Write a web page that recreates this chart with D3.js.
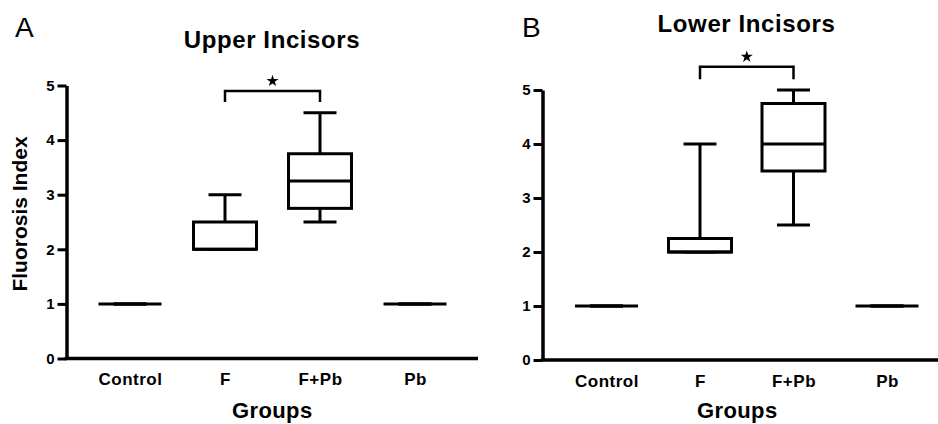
<!DOCTYPE html>
<html>
<head>
<meta charset="utf-8">
<script src="https://cdn.jsdelivr.net/npm/d3@7"></script>
<style>
  body { margin: 0; background: #fff; }
  svg { display: block; }
  text { font-family: "Liberation Sans", Arial, sans-serif; fill: #000; }
</style>
</head>
<body>
<div id="chart"></div>
<script>
// Groups and y ticks
const groups = ["Control", "F", "F+Pb", "Pb"];
const yTicks = [0, 1, 2, 3, 4, 5];

// Upper incisors: box plot statistics per group
const upperMin    = [1, 2,   2.5,  1];
const upperQ1     = [1, 2,   2.75, 1];
const upperMedian = [1, 2,   3.25, 1];
const upperQ3     = [1, 2.5, 3.75, 1];
const upperMax    = [1, 3,   4.5,  1];

// Lower incisors
const lowerMin    = [1, 2,    2.5,  1];
const lowerQ1     = [1, 2,    3.5,  1];
const lowerMedian = [1, 2,    4,    1];
const lowerQ3     = [1, 2.25, 4.75, 1];
const lowerMax    = [1, 4,    5,    1];

// significance bracket between these two groups
const sigPair = ["F", "F+Pb"];

const width = 938, height = 424;

const svg = d3.select("#chart")
    .append("svg")
    .attr("width", width)
    .attr("height", height);

const toStats = (mn, q1, med, q3, mx) =>
    groups.map((g, i) => ({group: g, min: mn[i], q1: q1[i], median: med[i], q3: q3[i], max: mx[i]}));

const panels = [
  {
    letter: "A", title: "Upper Incisors",
    stats: toStats(upperMin, upperQ1, upperMedian, upperQ3, upperMax),
    axisX: 66.5, xEnd: 478, y0: 358.5, y5: 85.5, c0: 130, c3: 415,
    titleX: 272, titleY: 48, letterX: 15, letterY: 37,
    bracketTop: 4.9, bracketLeg: 4.7, catY: 385, groupsY: 418, yLabel: true
  },
  {
    letter: "B", title: "Lower Incisors",
    stats: toStats(lowerMin, lowerQ1, lowerMedian, lowerQ3, lowerMax),
    axisX: 542.5, xEnd: 938, y0: 360, y5: 90, c0: 606.5, c3: 887,
    titleX: 746.5, titleY: 32, letterX: 522, letterY: 37,
    bracketTop: 5.43, bracketLeg: 5.2, catY: 386.5, groupsY: 418, yLabel: false
  }
];

const boxHalf = 31.5, capHalf = 16.5;

panels.forEach(p => {
  const g = svg.append("g");

  const x = d3.scalePoint().domain(groups).range([p.c0, p.c3]);
  const y = d3.scaleLinear().domain([0, 5]).range([p.y0, p.y5]);

  // panel letter and title
  g.append("text")
      .attr("x", p.letterX).attr("y", p.letterY)
      .style("font-size", "28px")
      .text(p.letter);
  g.append("text")
      .attr("x", p.titleX).attr("y", p.titleY)
      .attr("text-anchor", "middle")
      .style("font-size", "24px").style("font-weight", "bold")
      .style("letter-spacing", "0.6px")
      .text(p.title);

  // y axis
  const yAxis = g.append("g")
      .attr("transform", `translate(${p.axisX},0)`)
      .call(d3.axisLeft(y).tickValues(yTicks).tickFormat(d3.format("d"))
          .tickSize(9).tickSizeOuter(0).tickPadding(3));
  yAxis.select(".domain").attr("stroke", "#000").attr("stroke-width", 3.5);
  yAxis.selectAll(".tick line").attr("stroke", "#000").attr("stroke-width", 3);
  yAxis.selectAll(".tick text")
      .style("font-size", "15px").style("font-weight", "bold")
      .attr("fill", "#000").attr("font-family", null);

  // x axis baseline
  g.append("line")
      .attr("x1", p.axisX - 1.75).attr("x2", p.xEnd)
      .attr("y1", y(0)).attr("y2", y(0))
      .attr("stroke", "#000").attr("stroke-width", 3.5);

  // category labels
  const xAxis = g.append("g")
      .attr("transform", `translate(0,${p.catY})`)
      .call(d3.axisBottom(x).tickSize(0).tickPadding(0));
  xAxis.select(".domain").remove();
  xAxis.selectAll(".tick text")
      .attr("dy", 0)
      .style("font-size", "17px").style("font-weight", "bold")
      .style("letter-spacing", "0.5px")
      .attr("fill", "#000").attr("font-family", null);

  g.append("text")
      .attr("x", (p.axisX + p.xEnd) / 2 + (p.yLabel ? 0 : -3)).attr("y", p.groupsY)
      .attr("text-anchor", "middle")
      .style("font-size", "22px").style("font-weight", "bold")
      .style("letter-spacing", "0.4px")
      .text("Groups");

  if (p.yLabel) {
    g.append("text")
        .attr("transform", `translate(27,${(p.y0 + p.y5) / 2 - 8}) rotate(-90)`)
        .attr("text-anchor", "middle")
        .style("font-size", "21px").style("font-weight", "bold")
        .text("Fluorosis Index");
  }

  // box plots
  const box = g.append("g")
      .attr("fill", "none").attr("stroke", "#000").attr("stroke-width", 3)
      .selectAll("g")
      .data(p.stats)
      .join("g")
      .attr("transform", d => `translate(${x(d.group)},0)`);

  // whiskers
  box.append("line")
      .attr("y1", d => y(d.q3)).attr("y2", d => y(d.max));
  box.append("line")
      .attr("y1", d => y(d.q1)).attr("y2", d => y(d.min));
  box.append("line")
      .attr("x1", -capHalf).attr("x2", capHalf)
      .attr("y1", d => y(d.max)).attr("y2", d => y(d.max));
  box.append("line")
      .attr("x1", -capHalf).attr("x2", capHalf)
      .attr("y1", d => y(d.min)).attr("y2", d => y(d.min));

  // box
  box.filter(d => d.q3 > d.q1).append("rect")
      .attr("x", -boxHalf).attr("width", boxHalf * 2)
      .attr("y", d => y(d.q3)).attr("height", d => y(d.q1) - y(d.q3))
      .attr("fill", "#fff");

  // median
  box.append("line")
      .attr("x1", -boxHalf).attr("x2", boxHalf)
      .attr("y1", d => y(d.median)).attr("y2", d => y(d.median));

  // significance bracket
  const xa = x(sigPair[0]), xb = x(sigPair[1]);
  const top = y(p.bracketTop), leg = y(p.bracketLeg);
  g.append("path")
      .attr("d", `M${xa},${leg}V${top}H${xb}V${leg}`)
      .attr("fill", "none").attr("stroke", "#000").attr("stroke-width", 2.5);
  g.append("path")
      .attr("transform", `translate(${(xa + xb) / 2},${top - 10})`)
      .attr("d", d3.symbol(d3.symbolStar).size(45)())
      .attr("fill", "#000");
});
</script>
</body>
</html>
